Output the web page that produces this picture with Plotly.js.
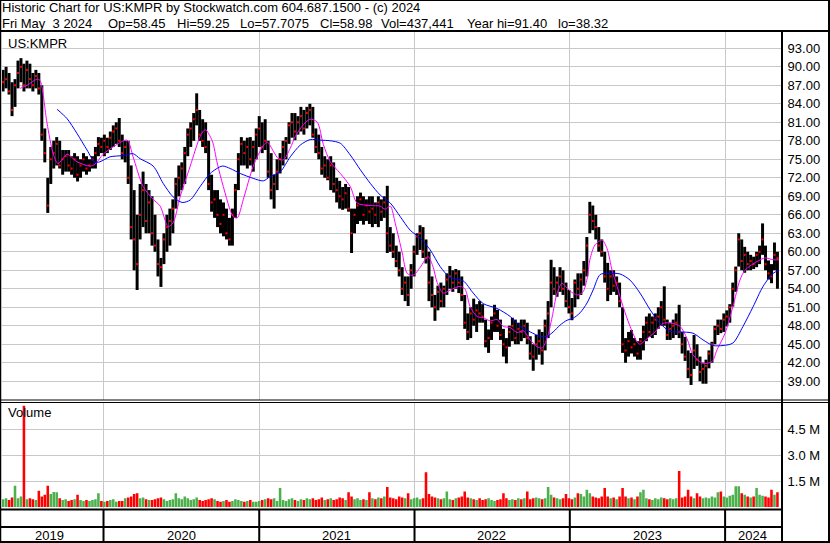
<!DOCTYPE html>
<html><head><meta charset="utf-8">
<script src="https://cdn.plot.ly/plotly-3.0.1.min.js"></script>
<style>html,body{margin:0;padding:0;background:#fff;overflow:hidden}#chart{width:830px;height:543px}</style>
</head><body><div id="chart"></div>
<script>
// ---------- data (weekly bars) ----------
const FIRST_WEEK = '2019-05-10';
const high = [
89.5,90,89,87.5,88,91,91.4,90.5,91,90.5,
89,89.5,89,87,80,72,77,78,78.6,78,
76.5,76.5,76.5,75.5,76,75.5,75,76,75.5,75,
75.5,77,78.6,78.5,79,78.5,79.5,80.5,81,81.7,
79,78,78,74,70,66,71,73,71,70,
69,66,62,59,63,66,67,68.5,72,74,
74.5,77,80,81,82.5,85.7,83,81.5,81,78,
72.5,70,70,68.5,68,67,65.5,67,71,76,
78.6,78,78.5,78.6,78,80,82,81,81.5,78,76,
72.5,75,76,78,78.6,81,82.5,82.5,82,83.5,
83,83.5,84,83.5,80,79,77,75.5,75,75.5,
74.5,72,71.5,70.5,71,70.5,67,67,69,69.6,
69,68.5,69,69,68,69,68.5,69,70.7,64,
63,61,60,57.5,56,56,58,61,63,64.3,
64,62,60,56,53,54.5,55,54.5,56.5,57.7,
57,57.2,57,56,53,50,51,52.4,51.5,52,
51.5,49,47.4,49.5,51.4,50.6,49,47.5,46,48,
49.3,49,48.5,49,49,48.5,46.3,45,46.5,47.4,47,
49,52,58.7,57.5,56,57.5,57,55,53.8,52.5,
55.5,56.5,56.5,58.5,62.4,68.1,67.5,66,64,62,
60,58.2,57,57,56,55,51,46,47,47.3,
46,45.5,46,48,49.5,50,49.5,50,51,52,
54.4,49,48.5,49,50,51.4,47,46.2,44,43.6,
46.5,45,43,42,42.5,44,45.4,48,49,49,
50,50.5,51.5,55,57.6,63,62,60.8,60,59.5,
59.2,60,61,64.6,61,58.6,58,61.5,60
];
const low = [
86,86.5,85.5,82,83.5,86.5,87.5,86,86.5,86.5,
86,86.5,85.5,78,74.5,66.3,71,73.5,74,73.5,
72.5,73,73,72.5,72,71.4,72,73,72.5,73,
73.5,73.5,75.5,76,75.5,76,76.5,77,77.5,77,
75,74.5,71,62,57,53.8,62,64,63,63,
61,60,56,54.3,58,60,61,63,67,69,
70,71,75.5,77,78,80.5,78,77,76,70,
66.5,65.5,64,63,62.5,62,61,61,65.5,70,
74,74,73.5,74,73,75,77,76,76.5,72,68.5,
67,70,72.7,74,75,77.5,78.5,78.1,79,79.5,
79,80,80.5,78.5,76,75,72.5,72,71.6,70,
69.6,68,67,66.8,67,66.5,59.8,63,64.5,65,
64.4,65,64.5,64,64.5,64,65,65.5,59.8,60,
59,57.5,56,53,52,51.2,54,56,59.5,60.3,
59,58.1,52,51,48.8,50.5,51,51,53,54,
53.5,54,53.3,52,47.5,45.7,46,48,47,48.5,
48.5,44.5,43.6,45.7,47,47,45.7,43,41.9,44.6,
45.5,45,45,45.5,46,45,42.5,40.7,42.5,43.3,41.7,
44,46,51,53,52.7,53.5,53,51,50,48.9,
51,52.3,53,54.5,56,63,63.5,62,60,59.2,
55,52,53,53.5,53,51,43.6,42,43,43.5,
43,42.5,42.5,44,45.5,46.2,46,46.5,47.5,48,
48,45.7,45.7,46,46.5,46,43.5,42.3,39.5,38.4,
41,41.5,39,38.6,38.6,41.1,42,45,46.5,46.8,
47,47.9,48.5,51.1,53.5,57.6,57,56.6,57,57,
57.2,57.5,58,59.5,57,55.5,54.9,57,54
];
const close = [
87.5,88,86,83,87,89,90,87,89.5,88,
87,88.5,86.5,79,76,67.5,75,76,77.5,74,
75,75.5,74,73.5,75,72.5,74,75,73.5,74,
75,76,77.5,77,78,77,78.5,79.5,80,78,
76,77,72,64,62,58,66,70,65,68,
63,61,58,57.5,62,64,65,67,71,72,
73.5,76,79,80,81.5,83,79,78,77,71,
68,68.5,66,64.5,66,63,62,66,70,75,
77.5,76,77,75,77,79,80,77,78,73,70,
71,73,75,77,78,80.5,81,79.5,81,82,
80,82.5,83,79,77,76,73.5,74,72,74,
71,70,69,68.5,69.5,67,63,66,67.5,68.5,
66,67.5,66.5,67,66,68,66.5,68,63,61,
60,58.5,57,54,55,53,57,60,62.5,63,
60,59,55,53,51,53.5,52,54,55.5,56,
55,56.5,55,53,48.5,47,50,49,50.5,50,
49.5,45.5,46,48.5,50,48,46.5,45,44.5,47,
48,46,47.5,47,48,46,43.5,43,45,45.5,44,
48,50,55,54,55,56,54,52,51,50,
55,54,55.5,57,61,66,65,64,61,60,
56,54,56,54.5,55,52,45,44,45.5,44.5,
45,43.5,45.5,47,48.5,47,48.5,49,49.5,51,
49,46.5,47.5,48,48.5,47,45,43,41,40,
44,42.5,40.5,41,41.5,43.5,45,47.5,48,47.5,
49,49.5,51,54,57,62,58.5,59.5,58,58.5,
58,59.5,60,62,58,56.5,56,59.5,58.98
];
// volume in millions of shares
const volumeM = [
0.45,0.5,0.4,0.55,1.23,0.5,0.6,5.84,0.45,0.5,
0.45,0.4,0.94,0.6,0.7,1.23,0.75,0.87,0.85,0.5,
0.4,0.45,0.35,0.4,0.45,0.7,0.4,0.35,0.4,0.35,
0.4,0.45,0.8,0.35,0.3,0.35,0.4,0.45,0.3,0.35,
0.35,0.5,0.55,0.6,0.75,0.8,0.5,0.55,0.45,0.4,
0.4,0.45,0.5,0.55,0.45,0.35,0.4,0.45,0.8,0.5,
0.45,0.6,0.5,0.4,0.45,0.55,0.4,0.35,0.4,0.45,
0.5,0.45,0.35,0.3,0.35,0.4,0.3,0.35,0.45,0.4,
0.35,0.3,0.35,0.4,0.3,0.3,0.35,0.4,0.45,0.5,0.45,
0.5,0.35,1.1,0.4,0.35,0.45,0.5,0.4,0.35,0.45,
0.4,0.5,0.45,0.5,0.4,0.45,0.55,0.4,0.45,0.5,
0.4,0.45,0.55,0.5,0.4,0.85,0.6,0.45,0.5,0.4,
0.45,0.4,0.85,0.5,0.45,0.55,0.5,0.6,1.15,0.55,
0.5,0.45,0.6,0.55,0.5,0.8,0.45,0.5,0.55,0.45,
0.5,2.0,0.75,0.6,0.55,0.5,0.45,0.5,0.9,0.45,
0.4,0.5,0.55,0.6,0.9,0.55,0.5,0.45,0.4,0.5,
0.4,0.45,0.5,0.4,0.35,0.4,0.45,0.8,0.5,0.4,
0.45,0.4,0.5,0.45,0.5,0.9,0.45,0.5,0.55,0.5,0.45,
0.5,1.15,0.7,0.55,0.5,0.45,0.5,0.75,0.5,0.45,
0.55,0.8,0.75,0.6,1.0,0.8,0.6,0.55,0.5,0.6,
1.1,0.6,0.5,0.55,0.45,0.6,1.1,0.6,0.5,0.55,
0.45,0.6,0.85,1.0,0.5,0.45,0.4,0.5,0.45,0.55,
0.5,0.45,0.5,0.45,0.5,2.08,0.55,0.6,1.0,0.6,
0.5,0.8,0.6,0.5,0.55,0.5,0.6,0.55,0.85,0.9,
0.6,0.55,0.65,0.7,1.2,1.2,0.8,0.7,0.6,0.55,
0.6,1.1,0.7,0.65,0.6,0.55,1.0,0.7,0.85
];
// moving averages, time in decimal years
const maShortT = [2019.463,2019.508,2019.572,2019.591,2019.636,2019.675,2019.707,2019.765,2019.829,2019.913,2019.945,2019.997,
2020.061,2020.151,2020.190,2020.254,2020.319,2020.364,2020.415,2020.447,2020.492,2020.557,2020.621,2020.653,2020.698,2020.730,2020.769,2020.833,2020.859,2020.898,2020.962,
2021.026,2021.052,2021.091,2021.123,2021.155,2021.200,2021.232,2021.284,2021.329,2021.374,2021.413,2021.458,2021.522,2021.586,2021.631,2021.715,2021.779,2021.811,2021.844,2021.876,2021.921,2021.953,2021.992,
2022.037,2022.088,2022.120,2022.146,2022.185,2022.230,2022.294,2022.326,2022.358,2022.403,2022.442,2022.487,2022.532,2022.571,2022.616,2022.661,2022.700,2022.745,2022.790,2022.822,2022.854,2022.886,2022.918,2022.950,2022.982,
2023.020,2023.053,2023.085,2023.111,2023.130,2023.162,2023.208,2023.240,2023.272,2023.304,2023.343,2023.388,2023.433,2023.452,2023.497,2023.549,2023.600,2023.658,2023.710,2023.755,2023.793,2023.858,2023.916,2023.948,
2024.000,2024.050,2024.095,2024.127,2024.160,2024.205,2024.256,2024.308,2024.346];
const maShort = [86.5,87,88,87.8,80.9,76,74.3,75.8,74.6,73.9,74.2,75.8,
77,78.1,75.4,70.6,68.5,67.4,64.1,64.7,68.9,73.9,78.7,79.8,78,74.4,70.6,65.7,65.5,68.5,73.9,
77.2,77.8,76.3,75.1,74.9,76.8,78.7,80.6,81.5,81,77.4,74.6,72.7,70.6,67.9,67.5,67.4,66.9,67.4,64.6,59.8,56.5,56.2,
57.5,59.2,57.5,55,53.3,53.8,54.4,53.9,51.1,49.5,49.3,48.8,49,47.9,47.7,46.9,47.2,45.7,44.6,44.4,46,49.4,53.3,54.9,54.1,
53.3,53,53.5,55.6,58.8,61.1,61.9,60.5,57,54.4,51.1,47.9,45.4,45,45.9,47,48.4,48.4,47.9,45.9,43.3,41.9,42.2,44.1,
46.8,51.1,55.4,57,57.7,58.4,59,58.7,58.7];
const maLongT = [2019.701,2019.765,2019.829,2019.894,2019.945,2019.977,
2020.042,2020.125,2020.190,2020.235,2020.319,2020.383,2020.447,2020.505,2020.557,2020.621,2020.685,2020.763,2020.814,2020.878,2020.962,
2021.026,2021.071,2021.136,2021.200,2021.264,2021.329,2021.393,2021.458,2021.522,2021.586,2021.651,2021.715,2021.779,2021.844,2021.908,2021.972,
2022.037,2022.101,2022.165,2022.230,2022.313,2022.378,2022.442,2022.532,2022.616,2022.680,2022.745,2022.809,2022.854,2022.893,2022.937,2022.982,
2023.020,2023.066,2023.111,2023.150,2023.195,2023.240,2023.323,2023.388,2023.452,2023.517,2023.581,2023.645,2023.710,2023.793,2023.858,2023.922,2023.987,
2024.050,2024.115,2024.180,2024.244,2024.308,2024.346];
const maLong = [83.1,81.6,79.2,76.5,74.5,74.6,
75.4,75.6,75.9,75.1,73.9,71.1,68.9,68,68.4,70.6,72.7,73.9,73.5,72.7,71.9,
71.5,72.2,73,75.4,77.3,78.2,78.1,78,77.6,75.7,73.3,71.1,69.2,67.9,65.7,63.5,
62.2,60.3,57.6,55.8,55.3,53.3,51.6,50.8,49.5,47.9,47,46.3,46.3,47,48.1,48.9,
49.2,50.1,51.7,53.8,56.3,56.5,56.4,55.4,53.3,50.6,48.4,47.1,47,46.8,45.7,44.8,44.8,
45.2,47.9,51.1,54.4,56.5,57];
const priceTicks = [39,42,45,48,51,54,57,60,63,66,69,72,75,78,81,84,87,90,93];
const volumeTicksM = [1.5,3.0,4.5];
const yearBounds = ['2020-01-01','2021-01-01','2022-01-01','2023-01-01','2024-01-01'];
const yearLabels = ['2019','2020','2021','2022','2023','2024'];
const yearLabelDates = ['2019-08-28','2020-07-02','2021-07-02','2022-07-02','2023-07-02','2024-03-05'];
const headerLine1 = 'Historic Chart for US:KMPR by Stockwatch.com 604.687.1500 - (c) 2024';
const headerFields = ['Fri May  3 2024', 'Op=58.45', 'Hi=59.25', 'Lo=57.7075', 'Cl=58.98', 'Vol=437,441', 'Year hi=91.40', 'lo=38.32'];

// ---------- build ----------
const n = high.length;
if (low.length !== n || close.length !== n || volumeM.length !== n) throw new Error('length mismatch ' + [n, low.length, close.length, volumeM.length]);
if (maShort.length !== maShortT.length || maLong.length !== maLongT.length) throw new Error('ma mismatch');
const DAY = 86400000;
const t0 = Date.parse(FIRST_WEEK + 'T00:00:00Z');
const dates = high.map((_, i) => new Date(t0 + i * 7 * DAY).toISOString().slice(0, 10));
function decYear(t) {
  const y = Math.floor(t), a = Date.UTC(y, 0, 1), b = Date.UTC(y + 1, 0, 1);
  return new Date(a + (t - y) * (b - a)).toISOString().slice(0, 16).replace('T', ' ');
}
const volColors = close.map((c, i) => i === 0 ? '#4cb04c' : (c > close[i - 1] ? '#4cb04c' : (c < close[i - 1] ? '#ff0000' : '#a8a8a8')));

const FONT = 'Liberation Sans, Arial, sans-serif';
const W = 830, H = 543, L = 2, R = 782;
const X = px => (px - L) / (R - L);
const Y = py => 1 - py / H;

const traces = [
  {type: 'bar', x: dates, y: high.map((h, i) => h - low[i]), base: low, width: 7 * DAY,
   marker: {color: '#000', line: {width: 0}}, xaxis: 'x', yaxis: 'y', hoverinfo: 'skip'},
  {type: 'scatter', mode: 'markers', x: dates, y: close, xaxis: 'x', yaxis: 'y',
   marker: {symbol: 'square', size: 2, color: '#ff0000', line: {width: 0}}, hoverinfo: 'skip'},
  {type: 'scatter', mode: 'lines', x: maShortT.map(decYear), y: maShort, xaxis: 'x', yaxis: 'y',
   line: {color: '#ff00ff', width: 1, shape: 'spline', smoothing: 0.8}, hoverinfo: 'skip'},
  {type: 'scatter', mode: 'lines', x: maLongT.map(decYear), y: maLong, xaxis: 'x', yaxis: 'y',
   line: {color: '#0000ff', width: 1, shape: 'spline', smoothing: 0.8}, hoverinfo: 'skip'},
  {type: 'bar', x: dates, y: volumeM.map(v => v * 1e6), width: 6 * DAY,
   marker: {color: volColors, line: {width: 0}}, xaxis: 'x2', yaxis: 'y2', hoverinfo: 'skip'}
];

const axisX = {type: 'date', range: ['2019-05-07 10:00', '2024-05-13 17:00'], tickvals: yearBounds,
  showticklabels: false, showgrid: true, gridcolor: '#c8c8c8', gridwidth: 1, zeroline: false, showline: false, ticks: ''};
const tickFont = {family: FONT, size: 13, color: '#000'};

const shapes = [];
function hline(py, x0, x1, w) { shapes.push({type: 'line', xref: 'paper', yref: 'paper', x0: X(x0), x1: X(x1), y0: Y(py), y1: Y(py), line: {color: '#000', width: w}}); }
function vline(px, y0, y1, w) { shapes.push({type: 'line', xref: 'paper', yref: 'paper', x0: X(px), x1: X(px), y0: Y(y0), y1: Y(y1), line: {color: '#000', width: w}}); }
hline(0.5, 0, 830, 1);
hline(31, 0, 830, 2);
hline(400, 0, 830, 1);
hline(402.5, 0, 830, 1);
hline(509.5, 0, R, 2);
hline(527, 0, R, 2);
hline(542, 0, 830, 2);
vline(0.5, 0, 543, 1.5);
vline(829, 0, 543, 2);
vline(R, 31, 543, 2);
yearBounds.forEach(d => shapes.push({type: 'line', xref: 'x', yref: 'paper', x0: d, x1: d, y0: Y(509), y1: Y(542), line: {color: '#000', width: 2}}));

const ann = [];
function text(t, px, py, anchor, size) {
  ann.push({xref: 'paper', yref: 'paper', x: X(px), y: Y(py), text: t.replace(/ {2}/g, '\u00a0\u00a0'),
    showarrow: false, xanchor: anchor || 'left', yanchor: 'middle', borderpad: 0,
    font: {family: FONT, size: size || 13, color: '#000'}});
}
text(headerLine1, 1, 8, 'left', 13);
const fieldX = [1, 107, 176, 239, 319, 380, 466, 557];
headerFields.forEach((f, i) => text(f, fieldX[i], 23.5, 'left', 13));
text('US:KMPR', 7, 43, 'left', 13);
text('Volume', 7, 413, 'left', 13);
yearLabels.forEach((yl, i) => ann.push({xref: 'x', yref: 'paper', x: yearLabelDates[i], y: Y(535), text: yl,
  showarrow: false, xanchor: 'center', yanchor: 'middle', font: {family: FONT, size: 13, color: '#000'}}));

const layout = {
  width: W, height: H, margin: {l: L, r: W - R, t: 0, b: 0, pad: 0},
  paper_bgcolor: '#fff', plot_bgcolor: '#fff', showlegend: false, barmode: 'overlay',
  xaxis: Object.assign({}, axisX, {anchor: 'y', domain: [0, 1]}),
  xaxis2: Object.assign({}, axisX, {anchor: 'y2', domain: [0, 1], matches: 'x'}),
  yaxis: {domain: [Y(400), Y(32)], range: [35.96, 95.643], side: 'right', tickvals: priceTicks,
    ticktext: priceTicks.map(v => v.toFixed(2)), showgrid: true, gridcolor: '#c8c8c8', gridwidth: 1,
    zeroline: false, showline: false, ticks: 'outside', ticklen: 2, tickcolor: 'rgba(0,0,0,0)', tickfont: tickFont},
  yaxis2: {domain: [Y(508), Y(402.5)], range: [-0.058e6, 6.03e6], side: 'right', tickvals: volumeTicksM.map(v => v * 1e6),
    ticktext: volumeTicksM.map(v => v.toFixed(1) + ' M'), showgrid: true, gridcolor: '#c8c8c8', gridwidth: 1,
    zeroline: false, showline: false, ticks: 'outside', ticklen: 2, tickcolor: 'rgba(0,0,0,0)', tickfont: tickFont},
  shapes: shapes, annotations: ann
};
Plotly.newPlot('chart', traces, layout, {staticPlot: true, displayModeBar: false});
</script></body></html>
